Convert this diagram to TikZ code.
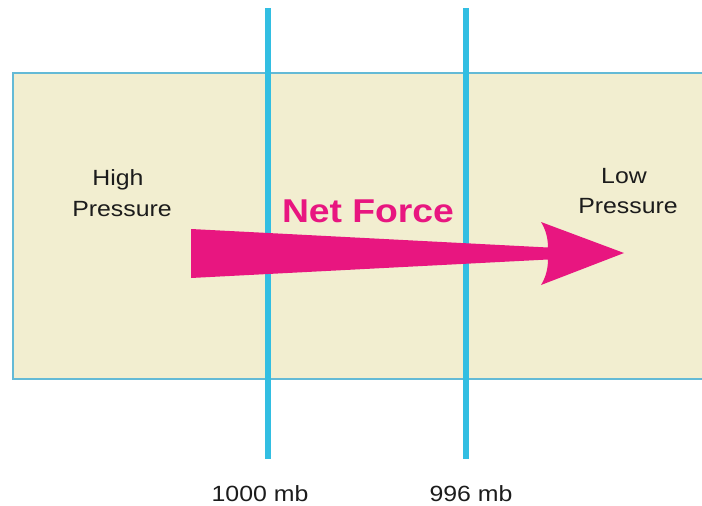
\documentclass[tikz,border=0pt]{standalone}
\usepackage{fontspec}
\setmainfont{Liberation Sans}
\newfontfamily\labfont[FakeStretch=1.13]{Liberation Sans}
\definecolor{panelfill}{RGB}{242,238,208}
\definecolor{panelrule}{RGB}{100,186,214}
\definecolor{isobar}{RGB}{50,190,226}
\definecolor{forcepink}{RGB}{232,22,128}
\definecolor{labelink}{RGB}{28,28,28}
\tikzset{
  lab/.style={inner sep=0pt, anchor=base, text=labelink, font=\labfont\fontsize{22}{26}\selectfont},
  netlab/.style={inner sep=0pt, anchor=base, text=forcepink, font=\labfont\bfseries\fontsize{33}{38}\selectfont},
  isoline/.style={draw=isobar, line width=6pt},
  forcearrow/.style={fill=forcepink, draw=none}
}
\begin{document}
\begin{tikzpicture}[x=1pt, y=-1pt]
  \useasboundingbox (0,0) rectangle (702,506);
  % panel between the two pressure regions (open on the right)
  \fill[panelfill] (13,72.5) rectangle (702,379);
  \draw[panelrule, line width=2pt] (702,72.5) -- (13,72.5) -- (13,379) -- (702,379);

  % isobars
  \coordinate (isoAtop) at (268,8);
  \coordinate (isoAbot) at (268,459);
  \coordinate (isoBtop) at (466,8);
  \coordinate (isoBbot) at (466,459);
  \draw[isoline] (isoAtop) -- (isoAbot);
  \draw[isoline] (isoBtop) -- (isoBbot);

  % tapering net-force arrow
  \fill[forcearrow] (191,229) -- (548,247.5)
     .. controls (548,239) and (546,230) .. (541,222)
     -- (624,253)
     -- (541,285)
     .. controls (546,277) and (548,268) .. (548,259.5)
     -- (191,278) -- cycle;

  % labels
  \node[lab] (high) at (118,185) {High};
  \node[lab] (highp) at (122,216) {Pressure};
  \node[lab] (low) at (624,183) {Low};
  \node[lab] (lowp) at (628,213) {Pressure};
  \node[netlab] (net) at (368,222) {Net Force};
  \node[lab] (isoAlab) at (260,501) {1000 mb};
  \node[lab] (isoBlab) at (471,501) {996 mb};
\end{tikzpicture}
\end{document}
